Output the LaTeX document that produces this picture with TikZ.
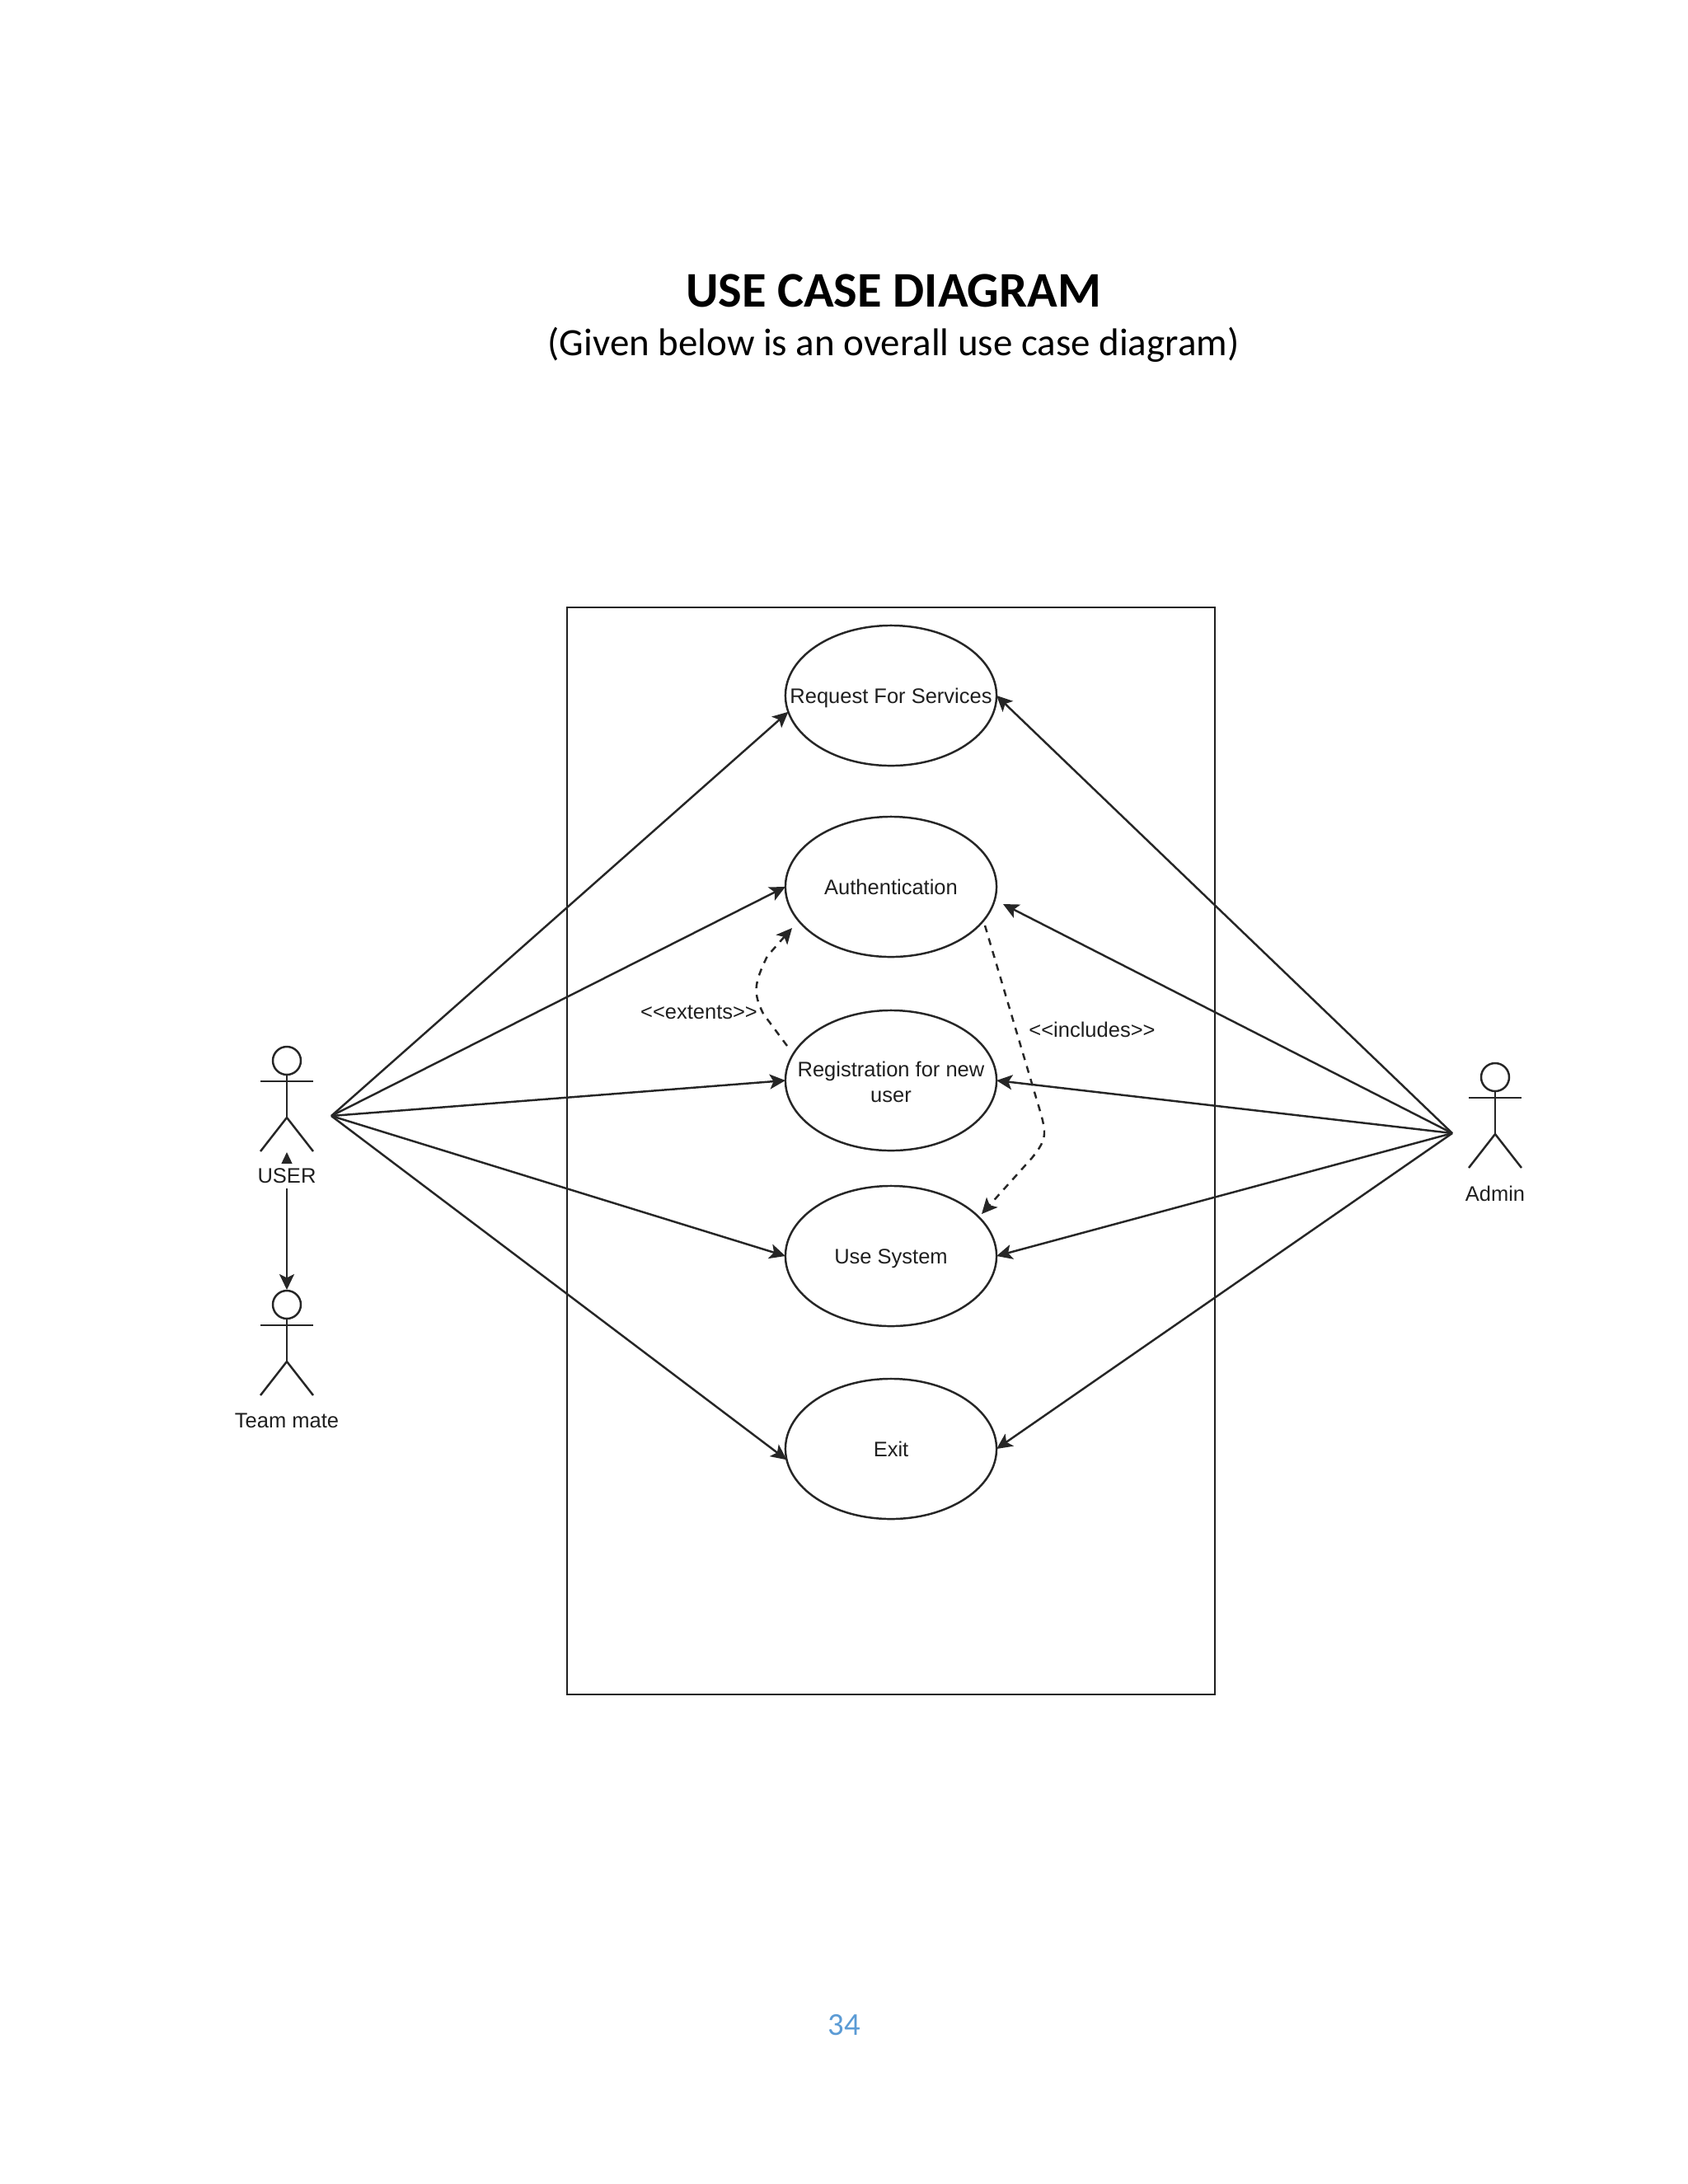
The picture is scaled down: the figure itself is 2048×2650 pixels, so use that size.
\documentclass[tikz,border=0pt]{standalone}
\usepackage{fontspec}
\setmainfont{Liberation Sans}
\newfontfamily\calib{Carlito}
\usetikzlibrary{arrows.meta,shapes.geometric}
\definecolor{pagenum}{HTML}{5B9BD5}
\tikzset{
  x=0.01cm,y=-0.01cm,
  headtip/.tip={Stealth[length=0.19cm,width=0.18cm,inset=0.045cm]},
  wire/.style={line width=0.7pt,draw=black!85},
  arrowline/.style={wire,-headtip},
  dashline/.style={arrowline,dash pattern=on 2.4pt off 2.2pt},
  usecase/.style={ellipse,draw=black!85,line width=0.7pt,minimum width=2.56cm,minimum height=1.70cm,inner sep=0pt,outer sep=0pt},
  umltext/.style={font=\fontsize{7.25}{8.7}\selectfont,align=center,inner sep=0pt,text=black!88},
  casetext/.style={umltext,anchor=base},
  actor/.pic={
    \draw[wire] (0,0) circle[radius=17];
    \draw[wire] (0,17) -- (0,69);
    \draw[wire] (-32,25) -- (32,25);
    \draw[wire] (-32,110) -- (0,69) -- (32,110);
  }
}
\begin{document}
\begin{tikzpicture}
\useasboundingbox (0,0) rectangle (2048,2650);
\node[font=\calib\bfseries\fontsize{17.2}{20}\selectfont,inner sep=0pt] (title) at (1084,353) {USE CASE DIAGRAM};
\node[font=\calib\fontsize{13.35}{15}\selectfont,inner sep=0pt] (subtitle) at (1084,418) {(Given below is an overall use case diagram)};
\node[font=\calib\fontsize{11}{13}\selectfont,inner sep=0pt,text=pagenum] (pageno) at (1024,2457) {34};

\node[draw=black!88,line width=0.65pt,minimum width=7.86cm,minimum height=13.18cm,inner sep=0pt,outer sep=0pt] (system) at (1081,1396.5) {};

\node[usecase] (req) at (1081,844) {};
\node[usecase] (auth) at (1081,1076) {};
\node[usecase] (reg) at (1081,1311) {};
\node[usecase] (use) at (1081,1524) {};
\node[usecase] (exit) at (1081,1758) {};
\node[casetext] (reqt) at (1081,853) {Request For Services};
\node[casetext] (autht) at (1081,1085) {Authentication};
\node[umltext] (regt) at (1081,1313) {Registration for new\\user};
\node[casetext] (uset) at (1081,1533) {Use System};
\node[casetext] (exitt) at (1081,1767) {Exit};

\pic at (348,1287) {actor};
\pic at (348,1583) {actor};
\pic at (1814,1307) {actor};
\coordinate (userhub) at (402,1354);
\coordinate (adminhub) at (1762,1375);
\coordinate (usertop) at (348,1398);
\coordinate (teamtop) at (348,1565);
\coordinate (authin) at (1217,1097);
\coordinate (extS) at (955,1269);
\coordinate (extE) at (961,1126);
\coordinate (incS) at (1195,1123);
\coordinate (incE) at (1191,1473);

\draw[arrowline] (userhub) -- (req.189);
\draw[arrowline] (userhub) -- (auth.west);
\draw[arrowline] (userhub) -- (reg.west);
\draw[arrowline] (userhub) -- (use.west);
\draw[arrowline] (userhub) -- (exit.186);
\draw[arrowline] (adminhub) -- (req.east);
\draw[arrowline] (adminhub) -- (authin);
\draw[arrowline] (adminhub) -- (reg.east);
\draw[arrowline] (adminhub) -- (use.east);
\draw[arrowline] (adminhub) -- (exit.east);

\draw[dashline] (extS) -- (926,1230) .. controls (914,1205) and (914,1195) .. (931,1160) -- (extE);
\draw[dashline] (incS) -- (1258,1335) .. controls (1270,1375) and (1272,1380) .. (1252,1405) -- (incE);

\node[umltext] (ext) at (848,1228) {<\kern0pt<extents>\kern0pt>};
\node[umltext] (inc) at (1325,1249) {<\kern0pt<includes>\kern0pt>};

\draw[wire,headtip-headtip] (usertop) -- (teamtop);
\node[umltext,fill=white,minimum width=0.8cm,minimum height=0.30cm] (userl) at (348,1427) {USER};
\node[umltext] (teaml) at (348,1724) {Team mate};
\node[umltext] (adminl) at (1814,1448) {Admin};
\end{tikzpicture}
\end{document}
